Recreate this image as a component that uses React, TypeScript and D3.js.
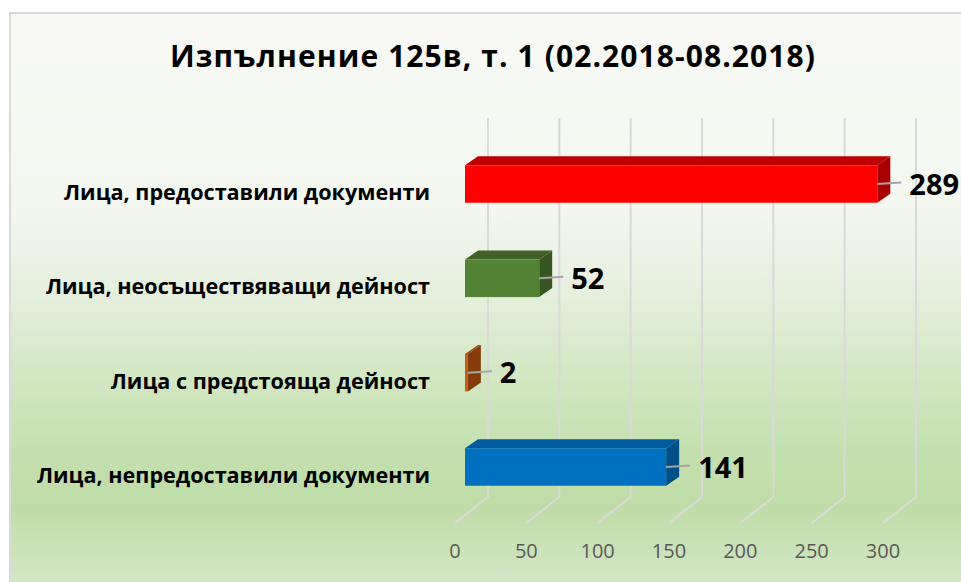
import React from "react";
import * as d3 from "d3";

const categories = [
  "Лица, предоставили документи",
  "Лица, неосъществяващи дейност",
  "Лица с предстояща дейност",
  "Лица, непредоставили документи",
];
const values = [289, 52, 2, 141];
const frontColors = ["#ff0000", "#548235", "#c55a11", "#0070c0"];
const topColors = ["#c00000", "#3f6128", "#a54b0e", "#005a9e"];
const sideColors = ["#a80000", "#375623", "#843c0c", "#004f88"];
const tickValues = [0, 50, 100, 150, 200, 250, 300];
const title = "Изпълнение 125в, т. 1 (02.2018-08.2018)";

const W = 961;
const H = 582;

export default function App() {
  const x = d3.scaleLinear().domain([0, 300]).range([0, 428]);
  const y = d3.scalePoint<string>().domain(categories).range([184, 467]);

  const frontPlaneX = 455; // tick label plane
  const barPlaneX = 465; // bar front faces
  const backPlaneX = 488; // back wall
  const gridTop = 118;
  const gridBottom = 497;
  const floorFrontY = 523;
  const barH = 37.5;
  const depthDx = 13;
  const depthDy = -9;

  const font = "'Open Sans', 'Noto Sans', sans-serif";

  return (
    <svg
      width={W}
      height={H}
      style={{ position: "absolute", left: 0, top: 0, display: "block" }}
    >
      <defs>
        <linearGradient id="bg" gradientUnits="userSpaceOnUse" x1="0" y1="13" x2="0" y2="582">
          <stop offset="0" stopColor="#f8f9f5" />
          <stop offset="0.33" stopColor="#f4f7f0" />
          <stop offset="0.48" stopColor="#e7f0df" />
          <stop offset="0.62" stopColor="#d4e8c6" />
          <stop offset="0.76" stopColor="#c4e0b0" />
          <stop offset="0.87" stopColor="#bedca8" />
          <stop offset="1" stopColor="#d3e7c6" />
        </linearGradient>
      </defs>
      <rect x={0} y={0} width={W} height={H} fill="#ffffff" />
      <rect x={10} y={13} width={W + 10} height={H + 10} fill="url(#bg)" stroke="#d9d9d9" strokeWidth={2} />

      <text
        x={170}
        y={67}
        textLength={645}
        lengthAdjust="spacing"
        fontFamily={font}
        fontWeight="bold"
        fontSize={30}
        fill="#000000"
      >
        {title}
      </text>

      {/* gridlines: back wall + floor diagonal */}
      {tickValues.map((t) => {
        const bx = backPlaneX + x(t);
        const fx = frontPlaneX + x(t);
        return (
          <polyline
            key={"g" + t}
            points={`${bx},${gridTop} ${bx},${gridBottom} ${fx},${floorFrontY}`}
            fill="none"
            stroke="#d9d9d9"
            strokeWidth={2}
          />
        );
      })}

      {/* tick labels */}
      {tickValues.map((t) => (
        <text
          key={"t" + t}
          x={frontPlaneX + x(t)}
          y={558}
          textAnchor="middle"
          fontFamily={font}
          fontSize={20}
          fill="#595959"
        >
          {t}
        </text>
      ))}

      {/* bars */}
      {categories.map((c, i) => {
        const cy = y(c) as number;
        const x0 = barPlaneX;
        const x1 = barPlaneX + x(values[i]);
        const yt = cy - barH / 2;
        const yb = cy + barH / 2;
        const topPts = `${x0},${yt} ${x0 + depthDx},${yt + depthDy} ${x1 + depthDx},${yt + depthDy} ${x1},${yt}`;
        const sidePts = `${x1},${yt} ${x1 + depthDx},${yt + depthDy} ${x1 + depthDx},${yb + depthDy} ${x1},${yb}`;
        return (
          <g key={"b" + i}>
            <polygon points={topPts} fill={topColors[i]} />
            <polygon points={sidePts} fill={sideColors[i]} />
            <rect x={x0} y={yt} width={x1 - x0} height={barH} fill={frontColors[i]} />
            <line
              x1={x1}
              y1={cy}
              x2={x1 + 24}
              y2={cy - 1.5}
              stroke="#a6a6a6"
              strokeWidth={2}
            />
            <text
              x={x1 + 32}
              y={cy + 10.5}
              fontFamily={font}
              fontWeight="bold"
              fontSize={29}
              fill="#000000"
            >
              {values[i]}
            </text>
          </g>
        );
      })}

      {/* category labels */}
      {categories.map((c) => (
        <text
          key={"c" + c}
          x={430}
          y={(y(c) as number) + 16}
          textAnchor="end"
          fontFamily={font}
          fontWeight="bold"
          fontSize={21.6}
          fill="#000000"
        >
          {c}
        </text>
      ))}
    </svg>
  );
}
